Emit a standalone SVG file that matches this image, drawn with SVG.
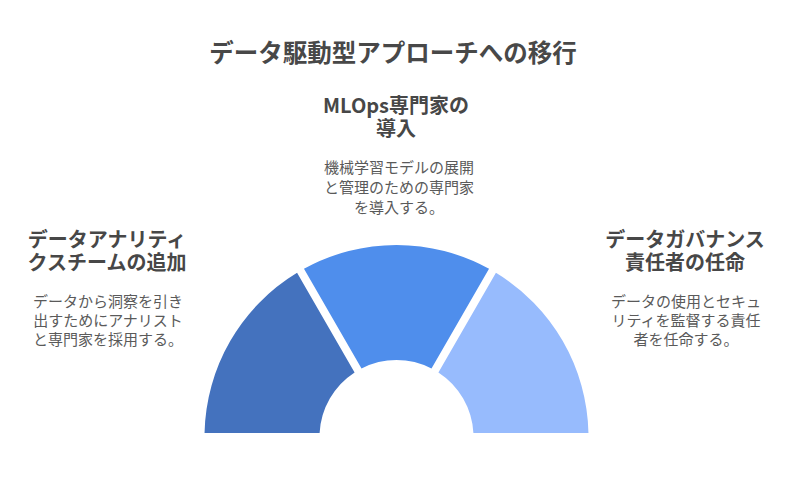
<svg xmlns="http://www.w3.org/2000/svg" width="794" height="482" viewBox="0 0 794 482">
<style>
text{font-family:"Noto Sans CJK JP","Noto Sans",sans-serif;text-anchor:middle}
.title{font-size:24.5px;font-weight:bold;fill:#484848}
.head{font-size:20px;font-weight:bold;fill:#474747}
.desc{font-size:15px;fill:#5a5a5a}
</style>
<rect width="794" height="482" fill="#ffffff"/>
<text class="title" x="393" y="62">データ駆動型アプローチへの移行</text>
<g id="segment-left">
<path d="M204.54 433 A192 192 0 0 1 297.06 272.76 L354.59 372.40 A77 77 0 0 0 319.6 433 Z" fill="#4472BE"/>
</g>
<g id="segment-middle">
<path d="M303.98 268.76 A192 192 0 0 1 489.02 268.76 L431.49 368.40 A77 77 0 0 0 361.51 368.40 Z" fill="#4F8EEC"/>
</g>
<g id="segment-right">
<path d="M495.94 272.76 A192 192 0 0 1 588.46 433 L473.4 433 A77 77 0 0 0 438.41 372.40 Z" fill="#97BBFD"/>
</g>
<g id="connectors"></g>
<g id="label-left">
<text class="head" x="107" y="247">データアナリティ</text>
<text class="head" x="107" y="270">クスチームの追加</text>
<text class="desc" x="108" y="307">データから洞察を引き</text>
<text class="desc" x="108" y="326">出すためにアナリスト</text>
<text class="desc" x="108" y="345">と専門家を採用する。</text>
</g>
<g id="label-middle">
<text class="head" x="396" y="113">MLOps専門家の</text>
<text class="head" x="396" y="136">導入</text>
<text class="desc" x="399" y="173">機械学習モデルの展開</text>
<text class="desc" x="399" y="193">と管理のための専門家</text>
<text class="desc" x="399" y="213">を導入する。</text>
</g>
<g id="label-right">
<text class="head" x="685" y="247">データガバナンス</text>
<text class="head" x="685" y="270">責任者の任命</text>
<text class="desc" x="686" y="307">データの使用とセキュ</text>
<text class="desc" x="686" y="326">リティを監督する責任</text>
<text class="desc" x="686" y="345">者を任命する。</text>
</g>
</svg>
